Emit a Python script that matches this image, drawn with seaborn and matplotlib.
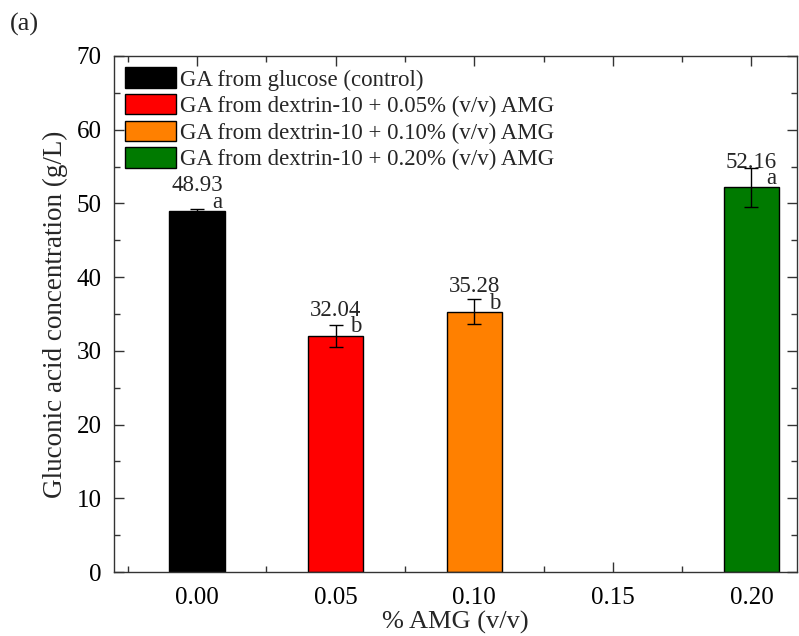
import matplotlib
matplotlib.use('Agg')
import matplotlib.pyplot as plt
from matplotlib.ticker import MultipleLocator
import seaborn as sns
import pandas as pd

# Data
amg = [0.00, 0.05, 0.10, 0.20]
ga_conc = [48.93, 32.04, 35.28, 52.16]
ga_err = [0.3, 1.5, 1.7, 2.6]
letters = ['a', 'b', 'b', 'a']
series = ['GA from glucose (control)',
          'GA from dextrin-10 + 0.05% (v/v) AMG',
          'GA from dextrin-10 + 0.10% (v/v) AMG',
          'GA from dextrin-10 + 0.20% (v/v) AMG']
colors = ['#000000', '#ff0000', '#ff8000', '#007a00']

df = pd.DataFrame({'amg': amg, 'ga': ga_conc, 'series': series})

sns.set_style('ticks')
plt.rcParams['font.family'] = ['Liberation Serif', 'DejaVu Serif']

fig = plt.figure(figsize=(7.99, 6.36), dpi=100)
ax = fig.add_axes([0.1427, 0.1006, 0.855, 0.8114])

sns.barplot(data=df, x='amg', y='ga', hue='series', native_scale=True,
            width=0.4, dodge=False, palette=colors, hue_order=series,
            saturation=1, edgecolor='black', linewidth=1, errorbar=None, ax=ax)

ax.errorbar(amg, ga_conc, yerr=ga_err, fmt='none', ecolor='black',
            elinewidth=1, capsize=5, capthick=1, zorder=5)

# value labels above each bar, significance letters to the right
for x, y, lab in zip(amg, ga_conc, letters):
    ax.text(x, y + 2.7, f'{y:.2f}', ha='center', va='baseline', fontsize=16.5)
    ax.text(x + 0.0072, y + 0.45, lab, ha='center', va='baseline', fontsize=16.5)

ax.set_xlim(-0.03, 0.2165)
ax.set_ylim(0, 70)
ax.xaxis.set_major_locator(MultipleLocator(0.05))
ax.xaxis.set_minor_locator(MultipleLocator(0.025))
ax.yaxis.set_major_locator(MultipleLocator(10))
ax.yaxis.set_minor_locator(MultipleLocator(5))
ax.set_xticks([0.0, 0.05, 0.10, 0.15, 0.20])
ax.set_xticklabels(['0.00', '0.05', '0.10', '0.15', '0.20'])

ax.tick_params(which='both', direction='in', top=True, right=True,
               labelsize=18, colors='#333333', labelcolor='black')
ax.tick_params(which='major', length=7, width=1, pad=9)
ax.tick_params(axis='x', which='major', pad=11)
ax.tick_params(which='minor', length=4, width=1)
for s in ax.spines.values():
    s.set_color('#333333')
    s.set_linewidth(1)

ax.set_xlabel('% AMG (v/v)', fontsize=19, labelpad=1.5)
ax.set_ylabel('Gluconic acid concentration (g/L)', fontsize=19.5, labelpad=6)

ax.legend(loc='upper left', frameon=False, fontsize=16.5,
          handlelength=2.2, handleheight=1.0, handletextpad=0.2,
          labelspacing=0.15, borderaxespad=0.3, borderpad=0.2)

fig.text(0.012, 0.962, '(a)', fontsize=19, ha='left', va='center')

fig.savefig('out.png', dpi=100)
